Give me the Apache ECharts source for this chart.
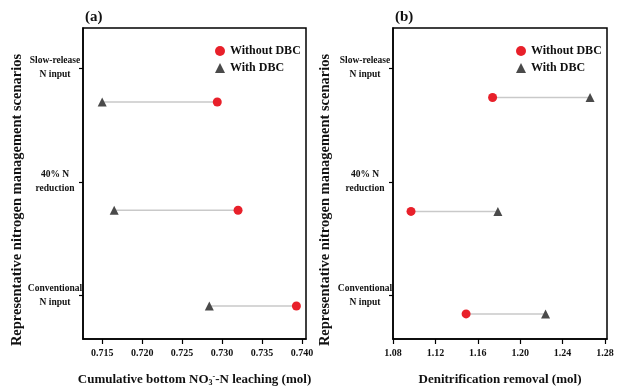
<!DOCTYPE html>
<html>
<head>
<meta charset="utf-8">
<script src="https://cdn.jsdelivr.net/npm/echarts@6/dist/echarts.min.js"></script>
<style>html,body{margin:0;background:#fff}#chart{width:619px;height:387px}</style>
</head>
<body>
<div id="chart"></div>
<script>
// categorías (eje y, de abajo hacia arriba)
const scenarios = ["Conventional\nN input", "40% N\nreduction", "Slow-release\nN input"];
const scenarioTicks = [1, 2, 3];
const yTitle = "Representative nitrogen management scenarios";

// panel (a): lixiviación NO3-N
const leachRowY    = [0.91, 1.75, 2.70];
const leachWithout = [0.7393, 0.7320, 0.7294];
const leachWith    = [0.7284, 0.7165, 0.7150];
const leachTicks   = [0.715, 0.720, 0.725, 0.730, 0.735, 0.740];

// panel (b): desnitrificación
const denitRowY    = [0.84, 1.74, 2.74];
const denitWithout = [1.149, 1.097, 1.174];
const denitWith    = [1.224, 1.179, 1.266];
const denitTicks   = [1.08, 1.12, 1.16, 1.20, 1.24, 1.28];

const serif = "'Liberation Serif', 'Times New Roman', serif";
const RED = "#e8202a";
const DARK = "#4a4a4a";

function xAxisFor(idx, min, max, ticks, digits, name) {
  return {
    type: "value", gridIndex: idx, min: min, max: max,
    splitLine: { show: false },
    axisLine: { show: true, onZero: false, lineStyle: { color: "#000", width: 1.5 } },
    axisTick: { show: true, length: 5, customValues: ticks, lineStyle: { color: "#000", width: 1.2 } },
    axisLabel: {
      customValues: ticks, margin: 9,
      fontFamily: serif, fontWeight: "bold", fontSize: 10, color: "#111",
      formatter: (v) => v.toFixed(digits)
    },
    name: name, nameLocation: "middle", nameGap: 34,
    nameTextStyle: {
      fontFamily: serif, fontWeight: "bold", fontSize: 13, color: "#111",
      rich: {
        a:   { fontFamily: serif, fontWeight: "bold", fontSize: 13, color: "#111" },
        sub: { fontFamily: serif, fontWeight: "bold", fontSize: 8, color: "#111", verticalAlign: "bottom", padding: [6, 0, 0, 0] },
        sup: { fontFamily: serif, fontWeight: "bold", fontSize: 8, color: "#111", verticalAlign: "top", padding: [0, 0, 6, 0] }
      }
    }
  };
}

function yAxisFor(idx) {
  return {
    type: "value", gridIndex: idx, min: 0.62, max: 3.35,
    splitLine: { show: false },
    axisLine: { show: true, onZero: false, lineStyle: { color: "#000", width: 1.5 } },
    axisTick: { show: true, length: 4, customValues: scenarioTicks, lineStyle: { color: "#000", width: 1.2 } },
    axisLabel: {
      customValues: scenarioTicks, margin: 28, align: "center",
      fontFamily: serif, fontWeight: "bold", fontSize: 9.5, lineHeight: 14, color: "#111",
      formatter: (v) => scenarios[scenarioTicks.indexOf(v)] || ""
    }
  };
}

function panelSeries(idx, rowY, without, withD) {
  const out = [];
  rowY.forEach((y, i) => {
    out.push({
      type: "line", xAxisIndex: idx, yAxisIndex: idx, symbol: "none", silent: true,
      lineStyle: { color: "#c9c9c9", width: 1.5 }, z: 1,
      data: [[without[i], y], [withD[i], y]]
    });
  });
  out.push({
    name: "Without DBC", type: "scatter", xAxisIndex: idx, yAxisIndex: idx,
    symbol: "circle", symbolSize: 9, itemStyle: { color: RED, opacity: 1 }, z: 3,
    data: rowY.map((y, i) => [without[i], y])
  });
  out.push({
    name: "With DBC", type: "scatter", xAxisIndex: idx, yAxisIndex: idx,
    symbol: "triangle", symbolSize: 9, itemStyle: { color: DARK, opacity: 1 }, z: 3,
    data: rowY.map((y, i) => [withD[i], y])
  });
  return out;
}

function legendAt(left) {
  return {
    left: left, top: 40, orient: "vertical", itemGap: 5,
    itemWidth: 10, itemHeight: 10,
    data: ["Without DBC", "With DBC"],
    itemStyle: { opacity: 1 },
    textStyle: { fontFamily: serif, fontWeight: "bold", fontSize: 12, color: "#111" }
  };
}

function yTitleAt(x) {
  return {
    type: "text", x: x, y: 200, rotation: Math.PI / 2,
    style: {
      text: yTitle, align: "center", verticalAlign: "middle",
      font: "bold 14.5px " + serif, fill: "#111"
    }
  };
}

const chart = echarts.init(document.getElementById("chart"), null, { renderer: "canvas" });

chart.setOption({
  animation: false,
  backgroundColor: "#fff",
  title: [
    { text: "(a)", left: 80, top: 5, textStyle: { fontFamily: serif, fontWeight: "bold", fontSize: 15, color: "#111" } },
    { text: "(b)", left: 390, top: 5, textStyle: { fontFamily: serif, fontWeight: "bold", fontSize: 15, color: "#111" } }
  ],
  legend: [legendAt(210), legendAt(511)],
  grid: [
    { left: 83, top: 28, width: 223, height: 311, outerBoundsMode: "none", show: true, borderColor: "#000", borderWidth: 1.5 },
    { left: 393, top: 28, width: 214, height: 311, outerBoundsMode: "none", show: true, borderColor: "#000", borderWidth: 1.5 }
  ],
  graphic: [yTitleAt(17), yTitleAt(325)],
  xAxis: [
    xAxisFor(0, 0.7126, 0.7405, leachTicks, 3, "{a|Cumulative bottom NO}{sub|3}{sup|-}{a|-N leaching (mol)}"),
    xAxisFor(1, 1.08, 1.282, denitTicks, 2, "{a|Denitrification removal (mol)}")
  ],
  yAxis: [yAxisFor(0), yAxisFor(1)],
  series: [
    ...panelSeries(0, leachRowY, leachWithout, leachWith),
    ...panelSeries(1, denitRowY, denitWithout, denitWith)
  ]
});
</script>
</body>
</html>
